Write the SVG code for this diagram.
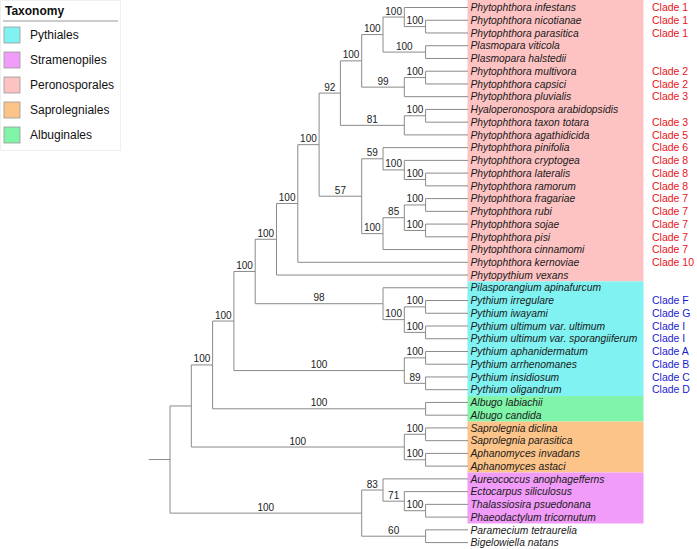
<svg xmlns="http://www.w3.org/2000/svg" width="697" height="549" viewBox="0 0 697 549">
<style>
.br{stroke:#8a8a8a;stroke-width:1;fill:none}
.bs{font-family:"Liberation Sans",Arial,sans-serif;font-size:10px;fill:#222;text-anchor:middle}
.lf{font-family:"Liberation Sans",Arial,sans-serif;font-size:10.3px;font-style:italic;fill:#1a1a1a}
.cl{font-family:"Liberation Sans",Arial,sans-serif;font-size:10.5px}
.red{fill:#e8141c}
.blue{fill:#1c1cd0}
.lg{font-family:"Liberation Sans",Arial,sans-serif;font-size:12px;fill:#111}
.sw{stroke:#999;stroke-width:0.8}
</style>
<rect width="697" height="549" fill="#fff"/>
<g id="bands">
<rect x="467.5" y="0" width="176" height="281.41" fill="#fdc3c3"/>
<rect x="467.5" y="281.41" width="176" height="114.66" fill="#80f2f2"/>
<rect x="467.5" y="396.07" width="176" height="25.48" fill="#80f4a8"/>
<rect x="467.5" y="421.55" width="176" height="50.96" fill="#fdc489"/>
<rect x="467.5" y="472.51" width="176" height="50.96" fill="#f19cf8"/>
</g>
<g id="legend">
<rect x="0.5" y="0.5" width="120" height="150" fill="#fff" stroke="#f0f0f0"/>
<text x="5" y="15" class="lg" font-weight="bold">Taxonomy</text>
<line x1="3" y1="21" x2="118" y2="21" stroke="#bbb" stroke-width="1.5"/>
<rect class="sw" x="4" y="27" width="16" height="16" fill="#80f2f2"/>
<text class="lg" x="30" y="39.3">Pythiales</text>
<rect class="sw" x="4" y="52" width="16" height="16" fill="#f19cf8"/>
<text class="lg" x="30" y="64.3">Stramenopiles</text>
<rect class="sw" x="4" y="77" width="16" height="16" fill="#fdc3c3"/>
<text class="lg" x="30" y="89.3">Peronosporales</text>
<rect class="sw" x="4" y="102" width="16" height="16" fill="#fdc489"/>
<text class="lg" x="30" y="114.3">Saprolegniales</text>
<rect class="sw" x="4" y="127" width="16" height="16" fill="#80f4a8"/>
<text class="lg" x="30" y="139.3">Albuginales</text>
</g>
<g id="connectors" class="br">
<path d="M148.7,459.55H170M170,405.98V513.12M170,405.98H191.3M170,513.12H361.7"/>
<path d="M191.3,364.93V447.03M191.3,364.93H212.6M191.3,447.03H404.3"/>
<path d="M212.6,321.04V408.81M212.6,321.04H233.9M212.6,408.81H425.6"/>
<path d="M233.9,271.48V370.59M233.9,271.48H255.2M233.9,370.59H404.3"/>
<path d="M255.2,239.26V303.71M255.2,239.26H276.5M255.2,303.71H383"/>
<path d="M276.5,203.48V275.04M276.5,203.48H297.8M276.5,275.04H468"/>
<path d="M297.8,144.66V262.3M297.8,144.66H319.1M297.8,262.3H468"/>
<path d="M319.1,93.1V196.21M319.1,93.1H340.4M319.1,196.21H361.7"/>
<path d="M340.4,60.85V125.35M340.4,60.85H361.7M340.4,125.35H404.3"/>
<path d="M361.7,34.57V87.13M361.7,34.57H383M361.7,87.13H404.3"/>
<path d="M383,17.06V52.09M383,17.06H404.3M383,52.09H425.6"/>
<path d="M404.3,7.5V26.61M404.3,7.5H468M404.3,26.61H425.6"/>
<path d="M425.6,20.24V32.98M425.6,20.24H468M425.6,32.98H468"/>
<path d="M425.6,45.72V58.46M425.6,45.72H468M425.6,58.46H468"/>
<path d="M404.3,77.57V96.68M404.3,77.57H425.6M404.3,96.68H468"/>
<path d="M425.6,71.2V83.94M425.6,71.2H468M425.6,83.94H468"/>
<path d="M404.3,115.79V134.9M404.3,115.79H425.6M404.3,134.9H468"/>
<path d="M425.6,109.42V122.16M425.6,109.42H468M425.6,122.16H468"/>
<path d="M361.7,158.79V233.64M361.7,158.79H383M361.7,233.64H383"/>
<path d="M383,147.64V169.94M383,147.64H468M383,169.94H404.3"/>
<path d="M404.3,160.38V179.49M404.3,160.38H468M404.3,179.49H425.6"/>
<path d="M425.6,173.12V185.86M425.6,173.12H468M425.6,185.86H468"/>
<path d="M383,217.71V249.56M383,217.71H404.3M383,249.56H468"/>
<path d="M404.3,204.97V230.45M404.3,204.97H425.6M404.3,230.45H425.6"/>
<path d="M425.6,198.6V211.34M425.6,198.6H468M425.6,211.34H468"/>
<path d="M425.6,224.08V236.82M425.6,224.08H468M425.6,236.82H468"/>
<path d="M383,287.78V319.63M383,287.78H468M383,319.63H404.3"/>
<path d="M404.3,306.89V332.37M404.3,306.89H425.6M404.3,332.37H425.6"/>
<path d="M425.6,300.52V313.26M425.6,300.52H468M425.6,313.26H468"/>
<path d="M425.6,326V338.74M425.6,326H468M425.6,338.74H468"/>
<path d="M404.3,357.85V383.33M404.3,357.85H425.6M404.3,383.33H425.6"/>
<path d="M425.6,351.48V364.22M425.6,351.48H468M425.6,364.22H468"/>
<path d="M425.6,376.96V389.7M425.6,376.96H468M425.6,389.7H468"/>
<path d="M425.6,402.44V415.18M425.6,402.44H468M425.6,415.18H468"/>
<path d="M404.3,434.29V459.77M404.3,434.29H425.6M404.3,459.77H425.6"/>
<path d="M425.6,427.92V440.66M425.6,427.92H468M425.6,440.66H468"/>
<path d="M425.6,453.4V466.14M425.6,453.4H468M425.6,466.14H468"/>
<path d="M361.7,490.03V536.21M361.7,490.03H383M361.7,536.21H425.6"/>
<path d="M383,478.88V501.18M383,478.88H468M383,501.18H404.3"/>
<path d="M404.3,491.62V510.73M404.3,491.62H468M404.3,510.73H425.6"/>
<path d="M425.6,504.36V517.1M425.6,504.36H468M425.6,517.1H468"/>
<path d="M425.6,529.84V542.58M425.6,529.84H468M425.6,542.58H468"/>
</g>
<g id="support" class="bs">
<text x="414.95" y="24.11">100</text>
<text x="393.65" y="14.56">100</text>
<text x="404.3" y="49.59">100</text>
<text x="372.35" y="32.07">100</text>
<text x="414.95" y="75.07">100</text>
<text x="383" y="84.63">99</text>
<text x="351.05" y="58.35">100</text>
<text x="414.95" y="113.29">100</text>
<text x="372.35" y="122.85">81</text>
<text x="329.75" y="90.6">92</text>
<text x="414.95" y="176.99">100</text>
<text x="393.65" y="167.44">100</text>
<text x="372.35" y="156.29">59</text>
<text x="414.95" y="202.47">100</text>
<text x="414.95" y="227.95">100</text>
<text x="393.65" y="215.21">85</text>
<text x="372.35" y="231.14">100</text>
<text x="340.4" y="193.71">57</text>
<text x="308.45" y="142.16">100</text>
<text x="287.15" y="200.98">100</text>
<text x="265.85" y="236.76">100</text>
<text x="414.95" y="304.39">100</text>
<text x="414.95" y="329.87">100</text>
<text x="393.65" y="317.13">100</text>
<text x="319.1" y="301.21">98</text>
<text x="244.55" y="268.98">100</text>
<text x="414.95" y="355.35">100</text>
<text x="414.95" y="380.83">89</text>
<text x="319.1" y="368.09">100</text>
<text x="223.25" y="318.54">100</text>
<text x="319.1" y="406.31">100</text>
<text x="201.95" y="362.43">100</text>
<text x="414.95" y="431.79">100</text>
<text x="414.95" y="457.27">100</text>
<text x="297.8" y="444.53">100</text>
<text x="414.95" y="508.23">100</text>
<text x="393.65" y="498.68">71</text>
<text x="372.35" y="487.53">83</text>
<text x="393.65" y="533.71">60</text>
<text x="265.85" y="510.62">100</text>
</g>
<g id="leaves">
<g id="l0"><text class="lf" x="470.5" y="11.2">Phytophthora infestans</text><text class="cl red" x="652" y="11.2">Clade 1</text></g>
<g id="l1"><text class="lf" x="470.5" y="23.94">Phytophthora nicotianae</text><text class="cl red" x="652" y="23.94">Clade 1</text></g>
<g id="l2"><text class="lf" x="470.5" y="36.68">Phytophthora parasitica</text><text class="cl red" x="652" y="36.68">Clade 1</text></g>
<g id="l3"><text class="lf" x="470.5" y="49.42">Plasmopara viticola</text></g>
<g id="l4"><text class="lf" x="470.5" y="62.16">Plasmopara halstedii</text></g>
<g id="l5"><text class="lf" x="470.5" y="74.9">Phytophthora multivora</text><text class="cl red" x="652" y="74.9">Clade 2</text></g>
<g id="l6"><text class="lf" x="470.5" y="87.64">Phytophthora capsici</text><text class="cl red" x="652" y="87.64">Clade 2</text></g>
<g id="l7"><text class="lf" x="470.5" y="100.38">Phytophthora pluvialis</text><text class="cl red" x="652" y="100.38">Clade 3</text></g>
<g id="l8"><text class="lf" x="470.5" y="113.12">Hyaloperonospora arabidopsidis</text></g>
<g id="l9"><text class="lf" x="470.5" y="125.86">Phytophthora taxon totara</text><text class="cl red" x="652" y="125.86">Clade 3</text></g>
<g id="l10"><text class="lf" x="470.5" y="138.6">Phytophthora agathidicida</text><text class="cl red" x="652" y="138.6">Clade 5</text></g>
<g id="l11"><text class="lf" x="470.5" y="151.34">Phytophthora pinifolia</text><text class="cl red" x="652" y="151.34">Clade 6</text></g>
<g id="l12"><text class="lf" x="470.5" y="164.08">Phytophthora cryptogea</text><text class="cl red" x="652" y="164.08">Clade 8</text></g>
<g id="l13"><text class="lf" x="470.5" y="176.82">Phytophthora lateralis</text><text class="cl red" x="652" y="176.82">Clade 8</text></g>
<g id="l14"><text class="lf" x="470.5" y="189.56">Phytophthora ramorum</text><text class="cl red" x="652" y="189.56">Clade 8</text></g>
<g id="l15"><text class="lf" x="470.5" y="202.3">Phytophthora fragariae</text><text class="cl red" x="652" y="202.3">Clade 7</text></g>
<g id="l16"><text class="lf" x="470.5" y="215.04">Phytophthora rubi</text><text class="cl red" x="652" y="215.04">Clade 7</text></g>
<g id="l17"><text class="lf" x="470.5" y="227.78">Phytophthora sojae</text><text class="cl red" x="652" y="227.78">Clade 7</text></g>
<g id="l18"><text class="lf" x="470.5" y="240.52">Phytophthora pisi</text><text class="cl red" x="652" y="240.52">Clade 7</text></g>
<g id="l19"><text class="lf" x="470.5" y="253.26">Phytophthora cinnamomi</text><text class="cl red" x="652" y="253.26">Clade 7</text></g>
<g id="l20"><text class="lf" x="470.5" y="266">Phytophthora kernoviae</text><text class="cl red" x="652" y="266">Clade 10</text></g>
<g id="l21"><text class="lf" x="470.5" y="278.74">Phytopythium vexans</text></g>
<g id="l22"><text class="lf" x="470.5" y="291.48">Pilasporangium apinafurcum</text></g>
<g id="l23"><text class="lf" x="470.5" y="304.22">Pythium irregulare</text><text class="cl blue" x="652" y="304.22">Clade F</text></g>
<g id="l24"><text class="lf" x="470.5" y="316.96">Pythium iwayami</text><text class="cl blue" x="652" y="316.96">Clade G</text></g>
<g id="l25"><text class="lf" x="470.5" y="329.7">Pythium ultimum var. ultimum</text><text class="cl blue" x="652" y="329.7">Clade I</text></g>
<g id="l26"><text class="lf" x="470.5" y="342.44">Pythium ultimum var. sporangiiferum</text><text class="cl blue" x="652" y="342.44">Clade I</text></g>
<g id="l27"><text class="lf" x="470.5" y="355.18">Pythium aphanidermatum</text><text class="cl blue" x="652" y="355.18">Clade A</text></g>
<g id="l28"><text class="lf" x="470.5" y="367.92">Pythium arrhenomanes</text><text class="cl blue" x="652" y="367.92">Clade B</text></g>
<g id="l29"><text class="lf" x="470.5" y="380.66">Pythium insidiosum</text><text class="cl blue" x="652" y="380.66">Clade C</text></g>
<g id="l30"><text class="lf" x="470.5" y="393.4">Pythium oligandrum</text><text class="cl blue" x="652" y="393.4">Clade D</text></g>
<g id="l31"><text class="lf" x="470.5" y="406.14">Albugo labiachii</text></g>
<g id="l32"><text class="lf" x="470.5" y="418.88">Albugo candida</text></g>
<g id="l33"><text class="lf" x="470.5" y="431.62">Saprolegnia diclina</text></g>
<g id="l34"><text class="lf" x="470.5" y="444.36">Saprolegnia parasitica</text></g>
<g id="l35"><text class="lf" x="470.5" y="457.1">Aphanomyces invadans</text></g>
<g id="l36"><text class="lf" x="470.5" y="469.84">Aphanomyces astaci</text></g>
<g id="l37"><text class="lf" x="470.5" y="482.58">Aureococcus anophagefferns</text></g>
<g id="l38"><text class="lf" x="470.5" y="495.32">Ectocarpus siliculosus</text></g>
<g id="l39"><text class="lf" x="470.5" y="508.06">Thalassiosira psuedonana</text></g>
<g id="l40"><text class="lf" x="470.5" y="520.8">Phaeodactylum tricornutum</text></g>
<g id="l41"><text class="lf" x="470.5" y="533.54">Paramecium tetraurelia</text></g>
<g id="l42"><text class="lf" x="470.5" y="546.28">Bigelowiella natans</text></g>
</g>
</svg>
